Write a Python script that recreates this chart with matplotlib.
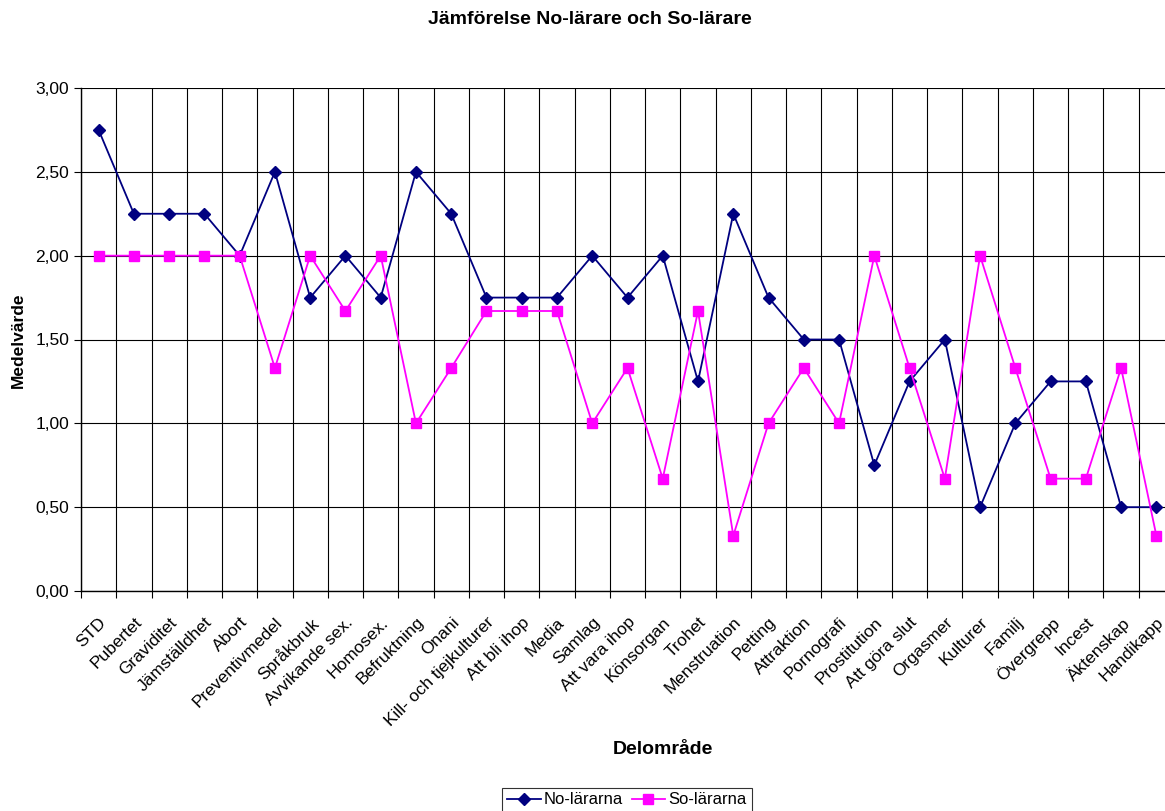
import numpy as np
import matplotlib.pyplot as plt
from matplotlib.ticker import FuncFormatter

plt.rcParams['font.family'] = ['Liberation Sans', 'DejaVu Sans']

# kategorier (delområden)
categories = ["STD", "Pubertet", "Graviditet", "Jämställdhet", "Abort", "Preventivmedel",
              "Språkbruk", "Avvikande sex.", "Homosex.", "Befruktning", "Onani",
              "Kill- och tjejkulturer", "Att bli ihop", "Media", "Samlag", "Att vara ihop",
              "Könsorgan", "Trohet", "Menstruation", "Petting", "Attraktion", "Pornografi",
              "Prostitution", "Att göra slut", "Orgasmer", "Kulturer", "Familj",
              "Övergrepp", "Incest", "Äktenskap", "Handikapp"]

no_larare = [2.75, 2.25, 2.25, 2.25, 2.00, 2.50, 1.75, 2.00, 1.75, 2.50, 2.25,
             1.75, 1.75, 1.75, 2.00, 1.75, 2.00, 1.25, 2.25, 1.75, 1.50, 1.50,
             0.75, 1.25, 1.50, 0.50, 1.00, 1.25, 1.25, 0.50, 0.50]
so_larare = [2.00, 2.00, 2.00, 2.00, 2.00, 1.33, 2.00, 1.67, 2.00, 1.00, 1.33,
             1.67, 1.67, 1.67, 1.00, 1.33, 0.67, 1.67, 0.33, 1.00, 1.33, 1.00,
             2.00, 1.33, 0.67, 2.00, 1.33, 0.67, 0.67, 1.33, 0.33]

x = np.arange(len(categories))

fig = plt.figure(figsize=(11.65, 8.11), dpi=100)
ax = fig.add_axes([81 / 1165, 220 / 811, 1093 / 1165, 503 / 811])

ax.plot(x, no_larare, color='#000080', marker='D', markersize=6, linewidth=1.3,
        label='No-lärarna')
ax.plot(x, so_larare, color='#FF00FF', marker='s', markersize=7, linewidth=1.3,
        label='So-lärarna')

ax.set_xlim(-0.5, len(categories) - 0.5)
ax.set_ylim(0, 3)
ax.set_yticks(np.arange(0, 3.01, 0.5))
ax.yaxis.set_major_formatter(FuncFormatter(lambda v, p: f"{v:.2f}".replace('.', ',')))

# gridlinjer mellan kategorierna
ax.set_xticks(np.arange(-0.5, len(categories), 1.0))
ax.set_xticklabels([])
ax.set_xticks(x, minor=True)
ax.set_xticklabels(categories, minor=True, rotation=45, ha='right', va='top',
                   rotation_mode='anchor', fontsize=12.5)
ax.tick_params(axis='x', which='minor', length=0, pad=17)
ax.tick_params(axis='x', which='major', length=5, direction='out', color='black')
ax.tick_params(axis='y', length=5, direction='out', labelsize=12.5)

ax.grid(True, which='major', color='black', linewidth=0.8)
ax.set_axisbelow(True)
for s in ['top', 'right']:
    ax.spines[s].set_visible(False)
for s in ['left', 'bottom']:
    ax.spines[s].set_linewidth(1.0)

fig.text(18 / 1165, 1 - 340 / 811, 'Medelvärde', rotation=90, ha='center',
         va='center', fontsize=12.5, fontweight='bold')
fig.text(590 / 1165, 1 - 20 / 811, 'Jämförelse No-lärare och So-lärare', ha='center',
         va='center', fontsize=14, fontweight='bold')
fig.text(663 / 1165, 1 - 750 / 811, 'Delområde', ha='center', va='center',
         fontsize=14, fontweight='bold')

leg = fig.legend(loc='center', bbox_to_anchor=(627 / 1165, 1 - 800 / 811), ncol=2,
                 frameon=True, fancybox=False, edgecolor='black', fontsize=12,
                 handlelength=2.0, columnspacing=0.5, handletextpad=0.2,
                 borderpad=0.3)
leg.get_frame().set_linewidth(0.8)

fig.savefig('out.png', dpi=100)
